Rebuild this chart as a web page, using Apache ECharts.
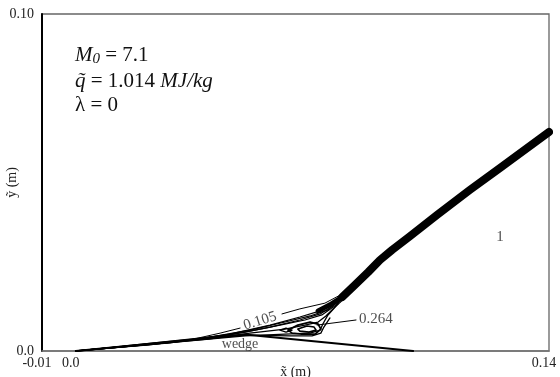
<!DOCTYPE html>
<html><head><meta charset="utf-8">
<script src="https://cdn.jsdelivr.net/npm/echarts@6/dist/echarts.min.js"></script>
<style>html,body{margin:0;padding:0;background:#fff}#c{width:560px;height:377px}</style>
</head><body><div id="c"></div>
<script>
// ---- data (metres) ----
const xTickValues = [-0.01, 0.0, 0.14];
const xTickLabels = ['-0.01', '0.0', '0.14'];
const yTickValues = [0.0, 0.10];
const yTickLabels = ['0.0', '0.10'];

const wedge = [[0, 0], [0.050, 0.0049], [0.0998, 0]];
const shockBandLower = [[0.0717, 0.0119], [0.0752, 0.0137], [0.0788, 0.0160], [0.0826, 0.0196]];
const shockBand = [[0.0788, 0.0160], [0.0826, 0.0196], [0.0865, 0.0234], [0.0900, 0.0270], [0.0936, 0.0300],
  [0.0989, 0.0341], [0.1069, 0.0404], [0.1166, 0.0478], [0.1255, 0.0543], [0.1400, 0.0650]];
const contour105 = [[0, 0], [0.0220, 0.0018], [0.0338, 0.0033], [0.0427, 0.0053], [0.0486, 0.0068], '-',
  [0.0610, 0.0110], [0.0663, 0.0125], [0.0737, 0.0142], [0.0788, 0.0169], [0.0829, 0.0205]];
const contourB = [[0, 0], [0.0279, 0.0024], [0.0456, 0.0050], [0.0575, 0.0077], [0.0663, 0.0101],
  [0.0723, 0.0119], [0.0767, 0.0142], [0.0811, 0.0181]];
const contourG = [[0, 0], [0.0368, 0.0036], [0.0515, 0.0062], [0.0619, 0.0086], [0.0693, 0.0104],
  [0.0746, 0.0122], [0.0782, 0.0151]];
const contourC = [[0, 0], [0.0368, 0.0036], [0.0501, 0.0056], [0.0604, 0.0077], [0.0678, 0.0092],
  [0.0728, 0.0107], [0.0767, 0.0134], [0.0805, 0.0172]];
const contourH = [[0, 0], [0.0456, 0.0048], [0.0575, 0.0071], [0.0663, 0.0092], [0.0723, 0.0110],
  [0.0761, 0.0134], [0.0796, 0.0166]];
const contourD = [[0, 0], [0.0397, 0.0036], [0.0515, 0.0053], [0.0619, 0.0065], [0.0678, 0.0077],
  [0.0717, 0.0086], [0.0740, 0.0104], [0.0764, 0.0128], [0.0796, 0.0157]];
const contourE = [[0, 0], [0.0501, 0.0045], [0.0619, 0.0050], [0.0693, 0.0053], [0.0723, 0.0062],
  [0.0731, 0.0080], [0.0746, 0.0107], [0.0776, 0.0140]];
const contourF = [[0, 0], [0.0501, 0.0047], [0.0634, 0.0045], [0.0699, 0.0045], [0.0725, 0.0053],
  [0.0734, 0.0071], [0.0752, 0.0098]];
const loop264 = [[0.0628, 0.0062], [0.0657, 0.0077], [0.0693, 0.0086], [0.0717, 0.0080], [0.0725, 0.0065],
  [0.0708, 0.0050], [0.0669, 0.0050], [0.0640, 0.0053], [0.0628, 0.0062]];
const loopInner = [[0.0657, 0.0065], [0.0684, 0.0074], [0.0705, 0.0071], [0.0711, 0.0062],
  [0.0690, 0.0056], [0.0663, 0.0059], [0.0657, 0.0065]];
const loopSmall = [[0.0604, 0.0062], [0.0622, 0.0068], [0.0640, 0.0062], [0.0622, 0.0056], [0.0604, 0.0062]];
const leader264 = [[0.0714, 0.0077], [0.0829, 0.0092]];

const contourLabels = [
  { text: '0.105', x: 0.0545, y: 0.0089, rotate: 17, size: 15 },
  { text: '0.264', x: 0.0888, y: 0.0095, rotate: 0, size: 15 },
  { text: 'wedge', x: 0.0486, y: 0.0021, rotate: 0, size: 14 },
  { text: '1', x: 0.1255, y: 0.0338, rotate: 0, size: 15 }
];

// ---- chart ----
const chart = echarts.init(document.getElementById('c'), null, { renderer: 'canvas' });
const serif = '"Liberation Serif", "DejaVu Serif", serif';
function lineSeries(data, width) {
  return { type: 'line', data: data, showSymbol: false, symbol: 'none', connectNulls: false,
    lineStyle: { color: '#000', width: width, join: 'round', cap: 'round' }, silent: true, z: 3 };
}
function fmt(vals, labs) {
  return function (v) {
    for (let i = 0; i < vals.length; i++) if (Math.abs(v - vals[i]) < 1e-9) return labs[i];
    return '';
  };
}
const option = {
  animation: false,
  backgroundColor: '#fff',
  grid: { left: 42, right: 11, top: 14, bottom: 26, containLabel: false, outerBoundsMode: 'none',
    show: true, borderColor: '#666', borderWidth: 1.3 },
  xAxis: {
    type: 'value', min: -0.01, max: 0.14, interval: 0.01,
    name: 'x\u0303 (m)', nameLocation: 'middle', nameGap: 14, nameMoveOverlap: false,
    nameTextStyle: { fontFamily: serif, fontSize: 14, color: '#222' },
    axisLine: { show: true, onZero: false, lineStyle: { color: '#777', width: 1.5 } },
    axisTick: { show: false }, splitLine: { show: false },
    axisLabel: { formatter: fmt(xTickValues, xTickLabels), fontFamily: serif, fontSize: 14, color: '#222',
      margin: 5, padding: [0, 10, 0, 0], showMaxLabel: true, showMinLabel: true }
  },
  yAxis: {
    type: 'value', min: 0, max: 0.1, interval: 0.1,
    name: 'y\u0303 (m)', nameLocation: 'middle', nameGap: 23, nameRotate: 90, nameMoveOverlap: false,
    nameTextStyle: { fontFamily: serif, fontSize: 14, color: '#222' },
    axisLine: { show: true, onZero: false, lineStyle: { color: '#000', width: 2 } },
    axisTick: { show: false }, splitLine: { show: false },
    axisLabel: { formatter: fmt(yTickValues, yTickLabels), fontFamily: serif, fontSize: 14, color: '#222', margin: 8 }
  },
  series: [
    lineSeries(wedge, 2),
    lineSeries(contour105, 1),
    lineSeries(contourB, 1.2),
    lineSeries(contourG, 1.2),
    lineSeries(contourC, 1.2),
    lineSeries(contourH, 1.2),
    lineSeries(contourD, 1.3),
    lineSeries(contourE, 1.3),
    lineSeries(contourF, 1.3),
    lineSeries(loop264, 1.8),
    lineSeries(loopInner, 1.6),
    lineSeries(loopSmall, 1.3),
    lineSeries(leader264, 1),
    lineSeries(shockBandLower, 5),
    lineSeries(shockBand, 8),
    {
      type: 'scatter', symbolSize: 0, silent: true, z: 5,
      data: contourLabels.map(function (d) {
        return { value: [d.x, d.y], name: d.text,
          label: { show: true, position: 'inside', formatter: d.text, rotate: d.rotate,
            fontFamily: serif, fontSize: d.size, color: '#222' } };
      })
    }
  ],
  graphic: [
    { type: 'text', left: 75, top: 45, style: { text: '{i|M}{s|0}{n| = 7.1}', rich: {
      i: { fontFamily: serif, fontStyle: 'italic', fontSize: 21, fill: '#111' },
      s: { fontFamily: serif, fontStyle: 'italic', fontSize: 15, fill: '#111', padding: [8, 0, 0, 0] },
      n: { fontFamily: serif, fontSize: 21, fill: '#111' } } } },
    { type: 'text', left: 75, top: 71, style: { text: '{i|q\u0303}{n| = 1.014 }{i|MJ/kg}', rich: {
      i: { fontFamily: serif, fontStyle: 'italic', fontSize: 21, fill: '#111' },
      n: { fontFamily: serif, fontSize: 21, fill: '#111' } } } },
    { type: 'text', left: 75, top: 95, style: { text: '\u03bb = 0', font: '21px ' + serif, fill: '#111' } }
  ]
};
chart.setOption(option);
</script></body></html>
